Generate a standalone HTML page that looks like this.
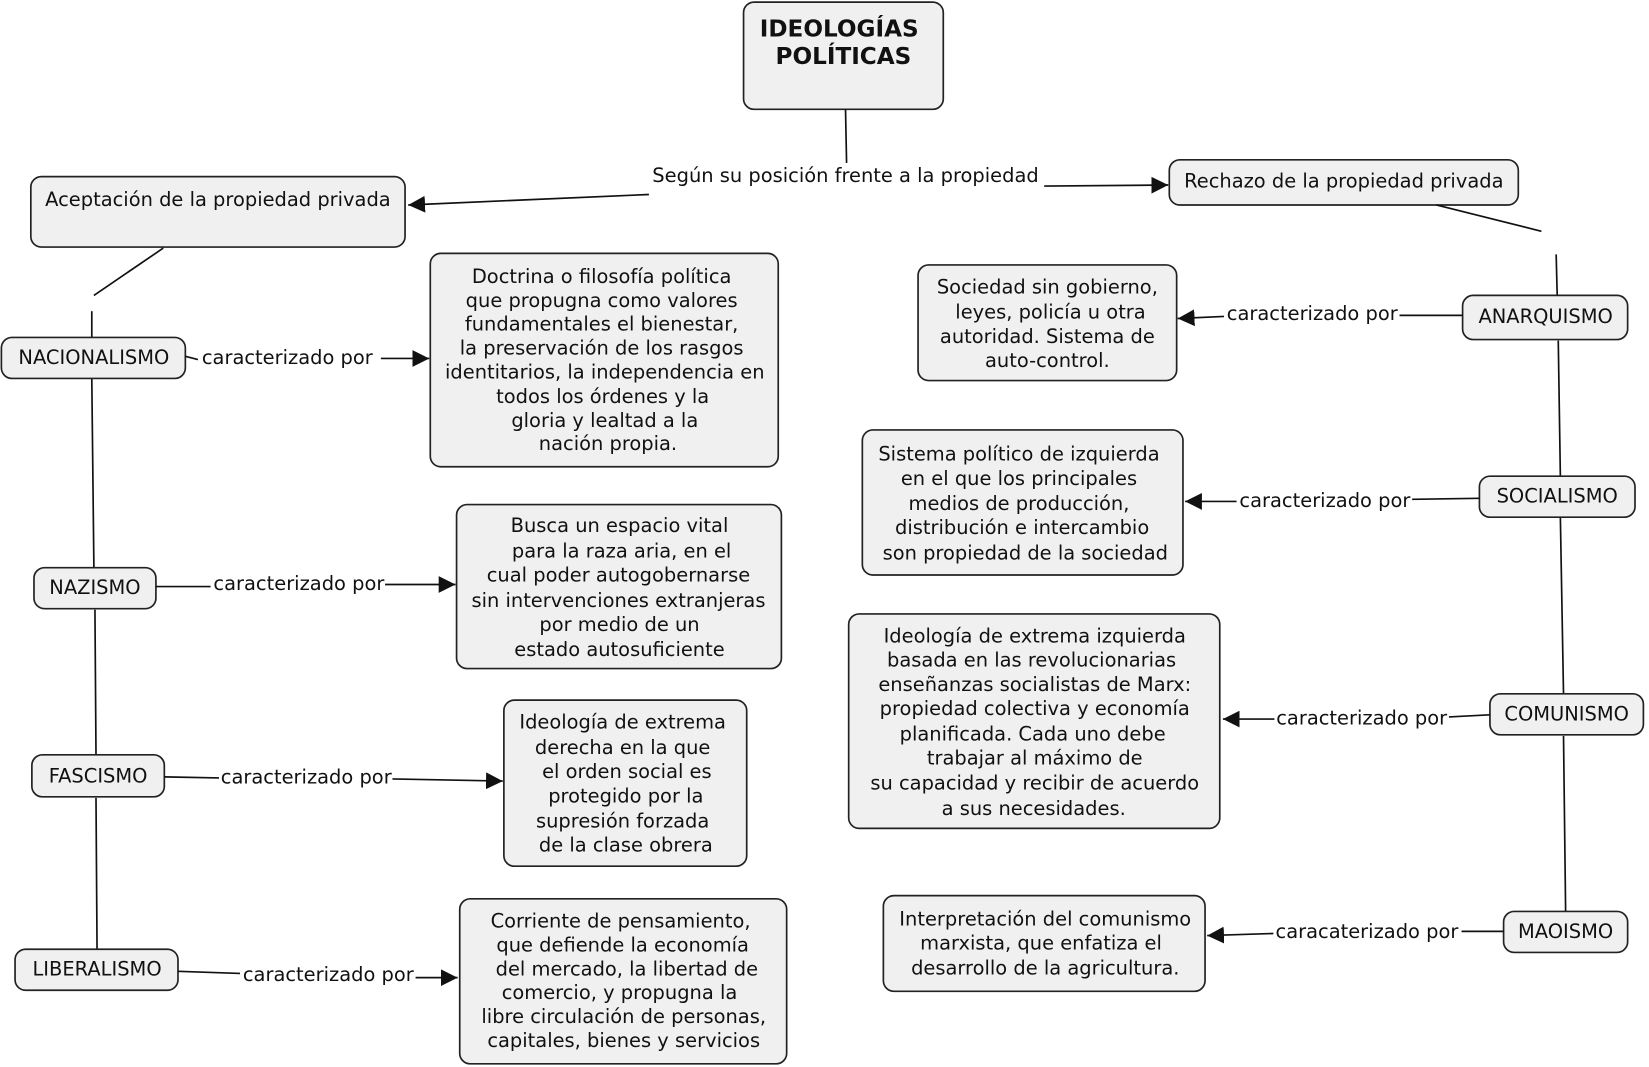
<!DOCTYPE html>
<html><head><meta charset="utf-8"><style>
html,body{margin:0;padding:0;background:#fff;width:1649px;height:1067px;overflow:hidden}
svg text{font-family:"DejaVu Sans","Liberation Sans",sans-serif;font-size:18.5px;fill:#111;text-anchor:middle;dominant-baseline:central}
.b{fill:#f0f0f0;stroke:#222;stroke-width:1.6}
.l{stroke:#111;stroke-width:1.6;fill:none}
</style></head><body>
<svg width="1649" height="1067" viewBox="0 0 1568 1015" xmlns="http://www.w3.org/2000/svg">
<defs>
<marker id="m" viewBox="0 0 10 10" markerWidth="16" markerHeight="16" refX="10" refY="5" orient="auto" markerUnits="userSpaceOnUse"><path d="M0,0 L10,5 L0,10 z" fill="#111"/></marker></defs>

<rect class="b" x="707" y="2" width="190" height="102" rx="10"/>
<text x="798" y="28" style="font-weight:bold;font-size:22px">IDEOLOGÍAS</text>
<text x="802" y="54" style="font-weight:bold;font-size:22px">POLÍTICAS</text>
<line class="l" x1="804" y1="104" x2="805" y2="155"/>
<text x="804" y="167">Según su posición frente a la propiedad</text>
<line class="l" x1="617" y1="185" x2="388" y2="195" marker-end="url(#m)"/>
<line class="l" x1="993" y1="177" x2="1111" y2="176" marker-end="url(#m)"/>

<rect class="b" x="29" y="168" width="356" height="67" rx="10"/>
<text x="207" y="190">Aceptación de la propiedad privada</text>
<rect class="b" x="1112" y="152" width="332" height="43" rx="10"/>
<text x="1278" y="172">Rechazo de la propiedad privada</text>

<line class="l" x1="155" y1="236" x2="89" y2="281"/>
<line class="l" x1="87" y1="296" x2="87" y2="321"/>
<line class="l" x1="87" y1="360" x2="89" y2="540"/>
<line class="l" x1="90" y1="580" x2="91" y2="718"/>
<line class="l" x1="91" y1="759" x2="92" y2="903"/>
<line class="l" x1="1366" y1="195" x2="1466" y2="220"/>
<line class="l" x1="1480" y1="242" x2="1481" y2="281"/>
<line class="l" x1="1482" y1="324" x2="1484" y2="453"/>
<line class="l" x1="1484" y1="492" x2="1487" y2="660"/>
<line class="l" x1="1487" y1="700" x2="1489" y2="867"/>

<rect class="b" x="1" y="321" width="175" height="39" rx="10"/>
<text x="89" y="340">NACIONALISMO</text>
<line class="l" x1="176" y1="339" x2="188" y2="342"/>
<text x="273" y="340">caracterizado por</text>
<line class="l" x1="362" y1="341" x2="408" y2="341" marker-end="url(#m)"/>
<rect class="b" x="409" y="241" width="331" height="203" rx="10"/>
<text x="572" y="263">Doctrina o filosofía política</text>
<text x="572" y="286">que  propugna como valores</text>
<text x="572" y="308">fundamentales el bienestar,</text>
<text x="572" y="331">la preservación de los rasgos</text>
<text x="575" y="354">identitarios, la independencia en</text>
<text x="573" y="377">todos los órdenes y la</text>
<text x="575" y="400">gloria y lealtad a la</text>
<text x="578" y="422">nación propia.</text>

<rect class="b" x="32" y="540" width="116" height="39" rx="10"/>
<text x="90" y="559">NAZISMO</text>
<line class="l" x1="148" y1="558" x2="200" y2="558"/>
<text x="284" y="555">caracterizado por</text>
<line class="l" x1="366" y1="556" x2="433" y2="556" marker-end="url(#m)"/>
<rect class="b" x="434" y="480" width="309" height="156" rx="10"/>
<text x="589" y="500">Busca un espacio vital</text>
<text x="591" y="524">para la raza aria, en el</text>
<text x="588" y="547">cual poder autogobernarse</text>
<text x="588" y="571">sin intervenciones extranjeras</text>
<text x="589" y="594">por medio de un</text>
<text x="589" y="618">estado autosuficiente</text>

<rect class="b" x="30" y="718" width="126" height="40" rx="10"/>
<text x="93" y="738">FASCISMO</text>
<line class="l" x1="156" y1="739" x2="208" y2="740"/>
<text x="291" y="739">caracterizado por</text>
<line class="l" x1="373" y1="741" x2="478" y2="743" marker-end="url(#m)"/>
<rect class="b" x="479" y="666" width="231" height="158" rx="10"/>
<text x="592" y="687">Ideología de extrema</text>
<text x="592" y="711">derecha en la que</text>
<text x="596" y="734">el orden social es</text>
<text x="595" y="757">protegido por la</text>
<text x="592" y="781">supresión forzada</text>
<text x="595" y="804">de la clase obrera</text>

<rect class="b" x="14" y="903" width="155" height="39" rx="10"/>
<text x="92" y="922">LIBERALISMO</text>
<line class="l" x1="169" y1="924" x2="228" y2="926"/>
<text x="312" y="927">caracterizado por</text>
<line class="l" x1="395" y1="930" x2="435" y2="930" marker-end="url(#m)"/>
<rect class="b" x="437" y="855" width="311" height="157" rx="10"/>
<text x="590" y="876">Corriente de  pensamiento,</text>
<text x="592" y="899">que defiende la economía</text>
<text x="596" y="922">del mercado, la libertad de</text>
<text x="589" y="944">comercio, y  propugna la</text>
<text x="593" y="967">libre circulación de personas,</text>
<text x="593" y="990">capitales, bienes y  servicios</text>

<rect class="b" x="1391" y="281" width="157" height="42" rx="10"/>
<text x="1470" y="301">ANARQUISMO</text>
<line class="l" x1="1391" y1="300" x2="1331" y2="300"/>
<text x="1248" y="298">caracterizado por</text>
<line class="l" x1="1164" y1="301" x2="1120" y2="303" marker-end="url(#m)"/>
<rect class="b" x="873" y="252" width="246" height="110" rx="10"/>
<text x="996" y="273">Sociedad sin gobierno,</text>
<text x="999" y="297">leyes, policía u otra</text>
<text x="996" y="320">autoridad. Sistema de</text>
<text x="996" y="343">auto-control.</text>

<rect class="b" x="1407" y="453" width="148" height="39" rx="10"/>
<text x="1481" y="472">SOCIALISMO</text>
<line class="l" x1="1407" y1="474" x2="1343" y2="475"/>
<text x="1260" y="476">caracterizado por</text>
<line class="l" x1="1176" y1="477" x2="1127" y2="477" marker-end="url(#m)"/>
<rect class="b" x="820" y="409" width="305" height="138" rx="10"/>
<text x="969" y="432">Sistema político de izquierda</text>
<text x="969" y="455">en el que los principales</text>
<text x="969" y="479">medios de producción,</text>
<text x="972" y="502">distribución e intercambio</text>
<text x="975" y="526">son propiedad de la sociedad</text>

<rect class="b" x="1417" y="660" width="146" height="39" rx="10"/>
<text x="1490" y="679">COMUNISMO</text>
<line class="l" x1="1417" y1="680" x2="1378" y2="682"/>
<text x="1295" y="683">caracterizado por</text>
<line class="l" x1="1212" y1="684" x2="1163" y2="684" marker-end="url(#m)"/>
<rect class="b" x="807" y="584" width="353" height="204" rx="10"/>
<text x="984" y="605">Ideología de extrema izquierda</text>
<text x="981" y="628">basada en las revolucionarias</text>
<text x="984" y="651">enseñanzas socialistas de Marx:</text>
<text x="984" y="674">propiedad colectiva y economía</text>
<text x="982" y="698">planificada. Cada uno debe</text>
<text x="984" y="721">trabajar al máximo de</text>
<text x="984" y="745">su capacidad y recibir de acuerdo</text>
<text x="983" y="769">a sus necesidades.</text>

<rect class="b" x="1430" y="867" width="118" height="39" rx="10"/>
<text x="1489" y="886">MAOISMO</text>
<line class="l" x1="1430" y1="886" x2="1390" y2="886"/>
<text x="1300" y="886">caracaterizado por</text>
<line class="l" x1="1211" y1="888" x2="1148" y2="890" marker-end="url(#m)"/>
<rect class="b" x="840" y="852" width="306" height="91" rx="10"/>
<text x="994" y="874">Interpretación del comunismo</text>
<text x="990" y="897">marxista, que enfatiza el</text>
<text x="994" y="921">desarrollo de la agricultura.</text>
</svg>
</body></html>
